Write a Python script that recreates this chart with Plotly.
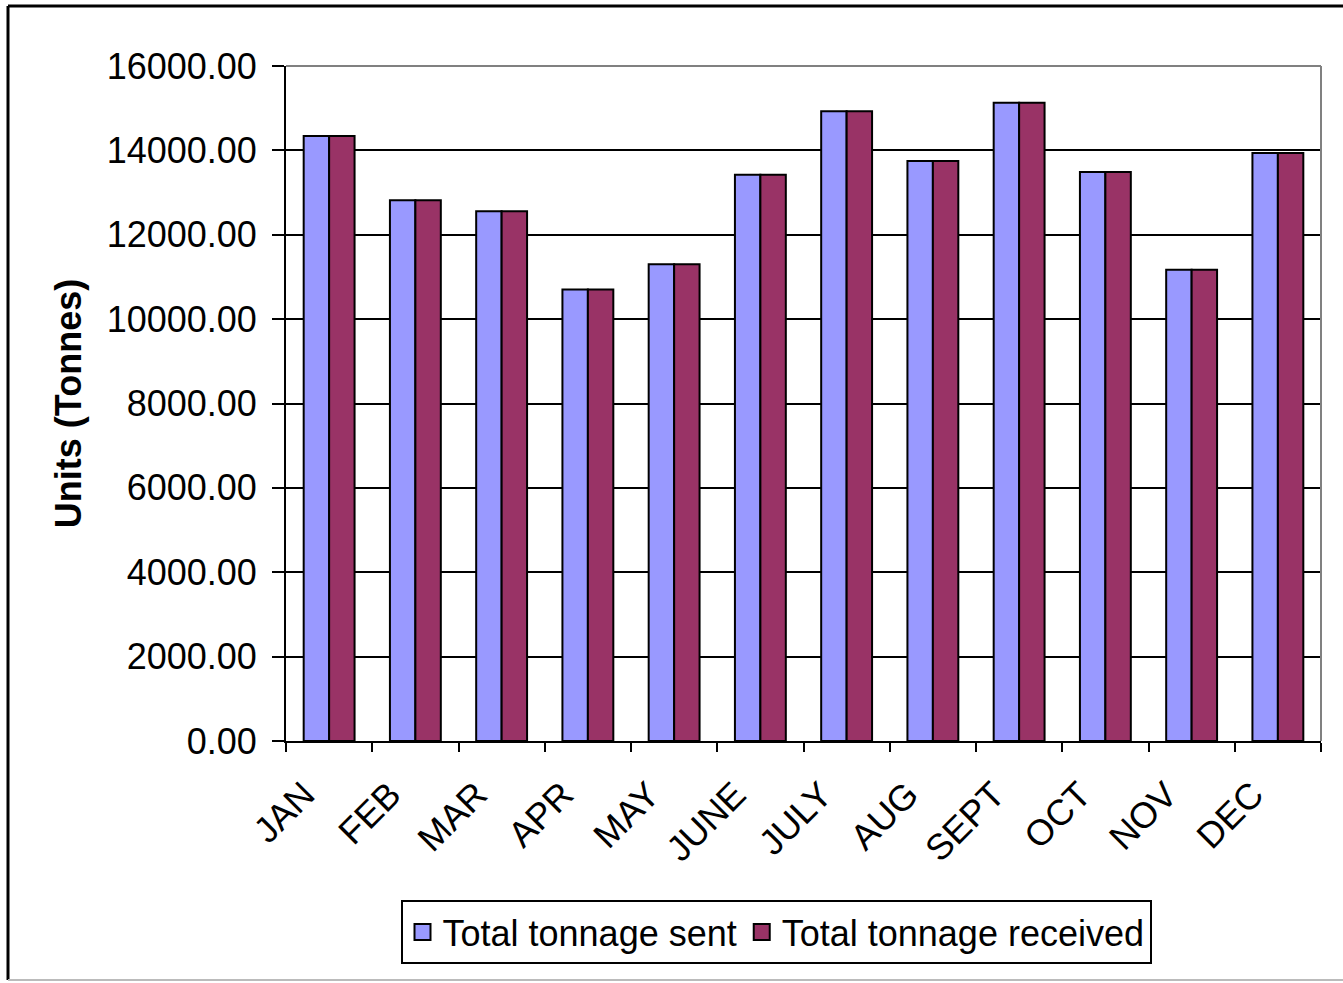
import plotly.graph_objects as go

# Monthly tonnage figures
months = ["JAN", "FEB", "MAR", "APR", "MAY", "JUNE", "JULY", "AUG", "SEPT", "OCT", "NOV", "DEC"]
tonnage_sent = [14340, 12820, 12560, 10700, 11300, 13420, 14930, 13750, 15130, 13490, 11170, 13940]
tonnage_received = [14340, 12820, 12560, 10700, 11300, 13420, 14930, 13750, 15130, 13490, 11170, 13940]
y_ticks = [0, 2000, 4000, 6000, 8000, 10000, 12000, 14000, 16000]

SENT_COLOR = "#9999FF"
RECV_COLOR = "#993366"
FONT = "Liberation Sans, Arial, sans-serif"
FS = 36
W, H = 1343, 983
L, R, T, B = 286, 22, 66, 242
pw, ph = W - L - R, H - T - B


def px(x):
    return (x - L) / pw


def py(y):
    return (H - B - y) / ph


fig = go.Figure()
fig.add_trace(go.Bar(
    x=months, y=tonnage_sent, name="Total tonnage sent", showlegend=False,
    marker=dict(color=SENT_COLOR, line=dict(color="black", width=2)),
))
fig.add_trace(go.Bar(
    x=months, y=tonnage_received, name="Total tonnage received", showlegend=False,
    marker=dict(color=RECV_COLOR, line=dict(color="black", width=2)),
))

# legend entries with larger square swatches
for name, color in [("Total tonnage sent", SENT_COLOR), ("Total tonnage received", RECV_COLOR)]:
    fig.add_trace(go.Scatter(
        x=[None], y=[None], mode="markers", name=name,
        marker=dict(symbol="square", size=20, color=color, line=dict(color="black", width=2)),
    ))

# chart-area frame and gray plot-area top/right edges
shapes = [
    dict(type="line", xref="paper", yref="paper", x0=px(8), x1=px(1350), y0=py(6), y1=py(6),
         line=dict(color="black", width=3)),
    dict(type="line", xref="paper", yref="paper", x0=px(8), x1=px(8), y0=py(6), y1=py(980),
         line=dict(color="black", width=3)),
    dict(type="line", xref="paper", yref="paper", x0=px(8), x1=px(1350), y0=py(980), y1=py(980),
         line=dict(color="#bbbbbb", width=2)),
    dict(type="line", xref="paper", yref="paper", x0=0, x1=1, y0=1, y1=1,
         line=dict(color="#808080", width=2)),
    dict(type="line", xref="paper", yref="paper", x0=1, x1=1, y0=0, y1=1,
         line=dict(color="#808080", width=2)),
]

fig.update_layout(
    width=W, height=H,
    margin=dict(l=L, r=R, t=T, b=B, pad=0),
    paper_bgcolor="white", plot_bgcolor="white",
    barmode="group", bargap=0.41, bargroupgap=0,
    font=dict(family=FONT, size=FS, color="black"),
    shapes=shapes,
    legend=dict(
        orientation="h", x=px(776), y=py(932), xanchor="center", yanchor="middle",
        bordercolor="black", borderwidth=2, bgcolor="white",
        font=dict(family=FONT, size=FS, color="black"),
        itemwidth=30, tracegroupgap=0,
    ),
    xaxis=dict(
        type="category", tickangle=-45, tickson="boundaries",
        ticks="outside", ticklen=9, tickwidth=2, tickcolor="black",
        showline=True, linecolor="black", linewidth=2,
        showgrid=False, tickfont=dict(size=FS),
        ticklabelshift=-25, ticklabelstandoff=16,
    ),
    yaxis=dict(
        range=[0, 16000], tickvals=y_ticks, tickformat=".2f",
        ticks="outside", ticklen=12, tickwidth=2, tickcolor="black",
        showline=True, linecolor="black", linewidth=2,
        showgrid=True, gridcolor="black", gridwidth=2,
        zeroline=False, tickfont=dict(size=FS), ticklabelstandoff=8,
        title=dict(text="<b>Units (Tonnes)</b>", font=dict(size=FS), standoff=14),
    ),
)

fig.write_html("out.html")
